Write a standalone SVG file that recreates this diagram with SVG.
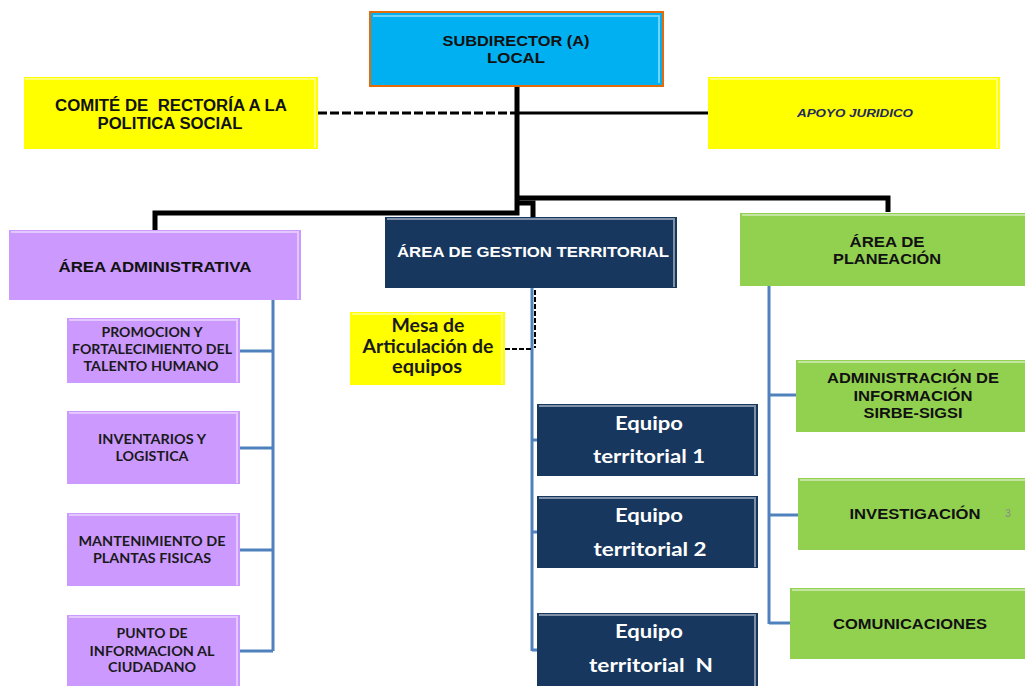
<svg xmlns="http://www.w3.org/2000/svg" width="1025" height="686" viewBox="0 0 1025 686">
<style>
.blue{fill:#00b0f0}
.yel{fill:#ffff00}
.pur{fill:#cc99ff}
.navy{fill:#17375e}
.grn{fill:#92d050}
.hl{fill:none;stroke:#ffffff;stroke-opacity:0.45;stroke-width:2}
.t{font-family:"Liberation Sans",Arial,sans-serif;font-weight:bold;text-anchor:middle;fill:#111111}
.c{font-family:Lato,"Liberation Sans",sans-serif;font-weight:bold;text-anchor:middle;fill:#1a1a1a}
.w{fill:#ffffff}
.blk{fill:none;stroke:#000000;stroke-width:5;stroke-linejoin:miter}
.blk3{fill:none;stroke:#000000;stroke-width:3}
.dash{fill:none;stroke:#000000;stroke-width:3;stroke-dasharray:9 3}
.dash2{fill:none;stroke:#000000;stroke-width:2;stroke-dasharray:5 2}
.bl{fill:none;stroke:#4f81bd;stroke-width:3}
</style>

<g id="connectors">
  <path class="blk" d="M517 86 V213 H155 V230"/>
  <path class="blk" d="M517 198 H888 V212"/>
  <path class="blk" d="M519 203 H533 V217"/>
  <path class="dash" d="M318 113 H515"/>
  <path class="blk3" d="M519 113 H708"/>
  <path class="bl" d="M273 300 V651 M240 351 H273 M240 448 H273 M240 550 H273 M240 651 H273"/>
  <path class="bl" d="M532 288 V651 M532 440 H537 M532 532 H537 M532 650 H537"/>
  <path class="dash2" d="M535 290 V348 M505 349 H533"/>
  <path class="bl" d="M769 286 V624 M769 395 H796 M769 515 H798 M769 623 H790"/>
</g>

<g id="subdirector">
  <rect x="370" y="12" width="293" height="74" class="blue" stroke="#e36c09" stroke-width="2"/>
  <path class="hl" d="M373 16 H659 V83"/>
  <text class="t" x="516" y="46" font-size="14" textLength="147" lengthAdjust="spacingAndGlyphs">SUBDIRECTOR (A)</text>
  <text class="t" x="516" y="63" font-size="14" textLength="58" lengthAdjust="spacingAndGlyphs">LOCAL</text>
</g>

<g id="comite">
  <rect x="24" y="77" width="294" height="72" class="yel"/>
  <path class="hl" d="M25 79 H315 V148"/>
  <text class="t" x="171" y="111" font-size="16" textLength="232" lengthAdjust="spacingAndGlyphs" xml:space="preserve">COMITÉ DE  RECTORÍA A LA</text>
  <text class="t" x="170" y="129" font-size="16" textLength="145" lengthAdjust="spacingAndGlyphs">POLITICA SOCIAL</text>
</g>

<g id="apoyo">
  <rect x="708" y="77" width="292" height="72" class="yel"/>
  <path class="hl" d="M710 79 H997 V148"/>
  <text class="t" x="855" y="117" font-size="11" font-style="italic" style="fill:#1f2a5c" textLength="116" lengthAdjust="spacingAndGlyphs">APOYO JURIDICO</text>
</g>

<g id="area-admin">
  <rect x="9" y="230" width="292" height="70" class="pur"/>
  <path class="hl" d="M11 232 H298 V299"/>
  <text class="t" x="155" y="272" font-size="15" textLength="193" lengthAdjust="spacingAndGlyphs">ÁREA ADMINISTRATIVA</text>
</g>

<g id="area-gestion">
  <rect x="385" y="217" width="292" height="71" class="navy"/>
  <path class="hl" d="M387 219 H674 V287"/>
  <text class="t" x="533" y="257" font-size="15" style="fill:#ffffff" textLength="272" lengthAdjust="spacingAndGlyphs">ÁREA DE GESTION TERRITORIAL</text>
</g>

<g id="area-planeacion">
  <rect x="740" y="213" width="285" height="73" class="grn"/>
  <path class="hl" d="M742 215 H1025"/>
  <text class="t" x="887" y="247" font-size="15" textLength="75" lengthAdjust="spacingAndGlyphs">ÁREA DE</text>
  <text class="t" x="887" y="264" font-size="15" textLength="108" lengthAdjust="spacingAndGlyphs">PLANEACIÓN</text>
</g>

<g id="promocion">
  <rect x="67" y="318" width="173" height="65" class="pur"/>
  <path class="hl" d="M69 320 H237 V382"/>
  <text class="c" x="152" y="337" font-size="13.5" textLength="101" lengthAdjust="spacingAndGlyphs">PROMOCION Y</text>
  <text class="c" x="152" y="354" font-size="13.5" textLength="160" lengthAdjust="spacingAndGlyphs">FORTALECIMIENTO DEL</text>
  <text class="c" x="151" y="371" font-size="13.5" textLength="135" lengthAdjust="spacingAndGlyphs">TALENTO HUMANO</text>
</g>

<g id="inventarios">
  <rect x="67" y="411" width="173" height="73" class="pur"/>
  <path class="hl" d="M69 413 H237 V483"/>
  <text class="c" x="152" y="444" font-size="13.5" textLength="108" lengthAdjust="spacingAndGlyphs">INVENTARIOS Y</text>
  <text class="c" x="152" y="461" font-size="13.5" textLength="73" lengthAdjust="spacingAndGlyphs">LOGISTICA</text>
</g>

<g id="mantenimiento">
  <rect x="67" y="513" width="173" height="73" class="pur"/>
  <path class="hl" d="M69 515 H237 V585"/>
  <text class="c" x="152" y="546" font-size="13.5" textLength="147" lengthAdjust="spacingAndGlyphs">MANTENIMIENTO DE</text>
  <text class="c" x="152" y="563" font-size="13.5" textLength="118" lengthAdjust="spacingAndGlyphs">PLANTAS FISICAS</text>
</g>

<g id="punto">
  <rect x="67" y="615" width="173" height="71" class="pur"/>
  <path class="hl" d="M69 617 H237 V686"/>
  <text class="c" x="152" y="638" font-size="13.5" textLength="71" lengthAdjust="spacingAndGlyphs">PUNTO DE</text>
  <text class="c" x="152" y="656" font-size="13.5" textLength="125" lengthAdjust="spacingAndGlyphs">INFORMACION AL</text>
  <text class="c" x="152" y="672" font-size="13.5" textLength="88" lengthAdjust="spacingAndGlyphs">CIUDADANO</text>
</g>

<g id="mesa">
  <rect x="350" y="312" width="155" height="73" class="yel"/>
  <path class="hl" d="M352 314 H502 V384"/>
  <text class="c" x="428" y="332" font-size="18" textLength="73" lengthAdjust="spacingAndGlyphs">Mesa de</text>
  <text class="c" x="428" y="353" font-size="18" textLength="131" lengthAdjust="spacingAndGlyphs">Articulación de</text>
  <text class="c" x="427" y="373" font-size="18" textLength="70" lengthAdjust="spacingAndGlyphs">equipos</text>
</g>

<g id="equipo1">
  <rect x="537" y="404" width="221" height="72" class="navy"/>
  <path class="hl" d="M539 406 H755 V475"/>
  <text class="c" x="649" y="430" font-size="19" style="fill:#ffffff" textLength="68" lengthAdjust="spacingAndGlyphs">Equipo</text>
  <text class="c" x="649" y="463" font-size="19" style="fill:#ffffff" textLength="112" lengthAdjust="spacingAndGlyphs">territorial 1</text>
</g>

<g id="equipo2">
  <rect x="537" y="496" width="221" height="72" class="navy"/>
  <path class="hl" d="M539 498 H755 V567"/>
  <text class="c" x="649" y="522" font-size="19" style="fill:#ffffff" textLength="68" lengthAdjust="spacingAndGlyphs">Equipo</text>
  <text class="c" x="650" y="556" font-size="19" style="fill:#ffffff" textLength="113" lengthAdjust="spacingAndGlyphs">territorial 2</text>
</g>

<g id="equipoN">
  <rect x="537" y="613" width="221" height="73" class="navy"/>
  <path class="hl" d="M539 615 H755 V686"/>
  <text class="c" x="649" y="638" font-size="19" style="fill:#ffffff" textLength="68" lengthAdjust="spacingAndGlyphs">Equipo</text>
  <text class="c" x="651" y="672" font-size="19" style="fill:#ffffff" textLength="124" lengthAdjust="spacingAndGlyphs" xml:space="preserve">territorial  N</text>
</g>

<g id="administracion">
  <rect x="796" y="360" width="229" height="72" class="grn"/>
  <path class="hl" d="M798 362 H1025"/>
  <text class="t" x="913" y="383" font-size="14" textLength="172" lengthAdjust="spacingAndGlyphs">ADMINISTRACIÓN DE</text>
  <text class="t" x="913" y="401" font-size="14" textLength="119" lengthAdjust="spacingAndGlyphs">INFORMACIÓN</text>
  <text class="t" x="913" y="418" font-size="14" textLength="99" lengthAdjust="spacingAndGlyphs">SIRBE-SIGSI</text>
</g>

<g id="investigacion">
  <rect x="798" y="478" width="227" height="72" class="grn"/>
  <path class="hl" d="M800 480 H1025"/>
  <text class="t" x="915" y="519" font-size="14" textLength="131" lengthAdjust="spacingAndGlyphs">INVESTIGACIÓN</text>
  <text x="1008" y="517" font-family="Liberation Sans,sans-serif" font-size="10" fill="#8a8a8a" text-anchor="middle">3</text>
</g>

<g id="comunicaciones">
  <rect x="790" y="588" width="235" height="71" class="grn"/>
  <path class="hl" d="M792 590 H1025"/>
  <text class="t" x="910" y="629" font-size="14" textLength="154" lengthAdjust="spacingAndGlyphs">COMUNICACIONES</text>
</g>
</svg>
